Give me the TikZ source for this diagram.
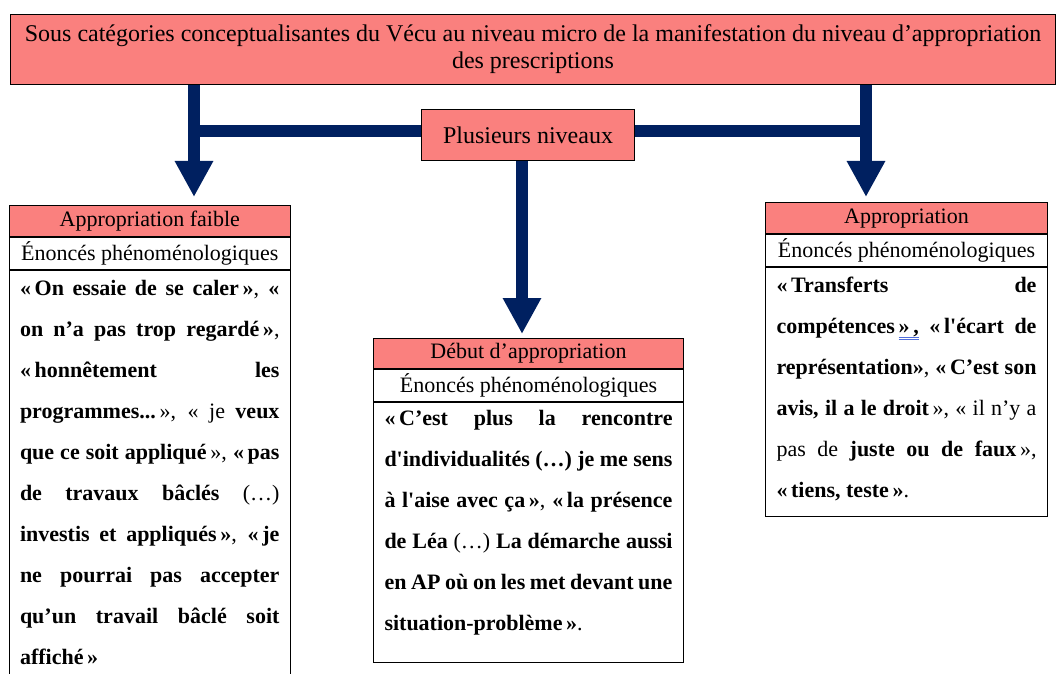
\documentclass[tikz,border=0pt]{standalone}
\usepackage{fontspec}
\setmainfont{Liberation Serif}[Ligatures=TeXOff]
\usetikzlibrary{positioning,arrows.meta}
\definecolor{salmon}{RGB}{250,128,126}
\definecolor{navy}{RGB}{0,32,96}
\definecolor{spellblue}{RGB}{80,110,220}
\newcommand{\spellmark}[1]{\setbox0\hbox{#1}\rlap{\raisebox{-2pt}{\color{spellblue}\rule{\wd0}{.35pt}}}\rlap{\raisebox{-3.1pt}{\color{spellblue}\rule{\wd0}{.35pt}}}\box0}
\begin{document}
\begin{tikzpicture}[x=.5pt,y=-.5pt,line width=.5pt,
  headbox/.style={draw,fill=salmon,inner sep=0pt,minimum height=15.25pt,font=\fontsize{11}{13}\selectfont},
  subbox/.style={draw,fill=white,inner sep=0pt,minimum height=16pt,font=\fontsize{11}{13}\selectfont},
  bodybox/.style={draw,align=justify,inner xsep=5.5pt,inner ysep=0pt,font=\fontsize{11}{20.5}\selectfont},
  bar/.style={draw=navy,line width=6pt},
  arrowbar/.style={bar,-{Triangle[width=18pt,length=18pt]}}]
\useasboundingbox (0,0) rectangle (1056,674);
\node[headbox,anchor=north west,minimum width=522.5pt,minimum height=35pt,align=center,font=\fontsize{12}{13.5}\selectfont] (title) at (10,14)
  {Sous catégories conceptualisantes du Vécu au niveau micro de la manifestation du niveau d’appropriation\\des prescriptions};
\node[headbox,anchor=north west,minimum width=106.5pt,minimum height=25.5pt,font=\fontsize{12}{13.5}\selectfont] (niveaux) at (421,109) {Plusieurs niveaux};
\node[headbox,anchor=north west,minimum width=140.75pt] (faibleHead) at (8.5,205.5) {Appropriation faible};
\node[subbox,below=0pt of faibleHead,minimum width=140.75pt] (faibleSub) {Énoncés phénoménologiques};
\node[bodybox,below=0pt of faibleSub,text width=129.75pt,text height=12.5pt,text depth=203pt] (faibleBody)
  {\textbf{«\,On essaie de se caler\,»}, \textbf{«}\linebreak
   \textbf{on n’a pas trop regardé\,»},\linebreak
   \textbf{«\,honnêtement les}\linebreak
   \textbf{programmes...}\,», « je \textbf{veux}\linebreak
   \textbf{que ce soit appliqué}\,», \textbf{«\,pas}\linebreak
   \textbf{de travaux bâclés} (…)\linebreak
   \textbf{investis et appliqués\,»}, \textbf{«\,je}\linebreak
   \textbf{ne pourrai pas accepter}\linebreak
   \textbf{qu’un travail bâclé soit}\linebreak
   \textbf{affiché\,»}};
\node[headbox,anchor=north west,minimum width=155pt] (debutHead) at (373,337.5) {Début d’appropriation};
\node[subbox,below=0pt of debutHead,minimum width=155pt] (debutSub) {Énoncés phénoménologiques};
\node[bodybox,below=0pt of debutSub,text width=144pt,text height=11.5pt,text depth=118.5pt] (debutBody)
  {\textbf{«\,C’est plus la rencontre}\linebreak
   \textbf{d'individualités (…) je me sens}\linebreak
   \textbf{à l'aise avec ça\,»}, \textbf{«\,la présence}\linebreak
   \textbf{de Léa} (…) \textbf{La démarche aussi}\linebreak
   \textbf{en AP où on les met devant une}\linebreak
   \textbf{situation-problème\,»}.};
\node[headbox,anchor=north west,minimum width=141pt] (approHead) at (765,202.5) {Appropriation};
\node[subbox,below=0pt of approHead,minimum width=141pt] (approSub) {Énoncés phénoménologiques};
\node[bodybox,below=0pt of approSub,text width=130pt,text height=12.5pt,text depth=112pt] (approBody)
  {\textbf{«\,Transferts de}\linebreak
   \textbf{compétences\,\spellmark{»\,,}} \textbf{«\,l'écart de}\linebreak
   \textbf{représentation»}, \textbf{«\,C’est son}\linebreak
   \textbf{avis, il a le droit}\,», « il n’y a\linebreak
   pas de \textbf{juste ou de faux}\,»,\linebreak
   \textbf{«\,tiens, teste\,»}.};
\coordinate (leftKnee) at (194,131);
\coordinate (rightKnee) at (866,131);
\coordinate (midDrop) at (522,160);
\draw[bar] (leftKnee) -- (niveaux.west |- leftKnee);
\draw[bar] (niveaux.east |- rightKnee) -- (rightKnee);
\draw[arrowbar] (title.south -| leftKnee) -- ([yshift=4.25pt]faibleHead.north -| leftKnee);
\draw[arrowbar] (title.south -| rightKnee) -- ([yshift=2.75pt]approHead.north -| rightKnee);
\draw[arrowbar] (niveaux.south -| midDrop) -- ([yshift=1.75pt]debutHead.north -| midDrop);
\end{tikzpicture}
\end{document}
